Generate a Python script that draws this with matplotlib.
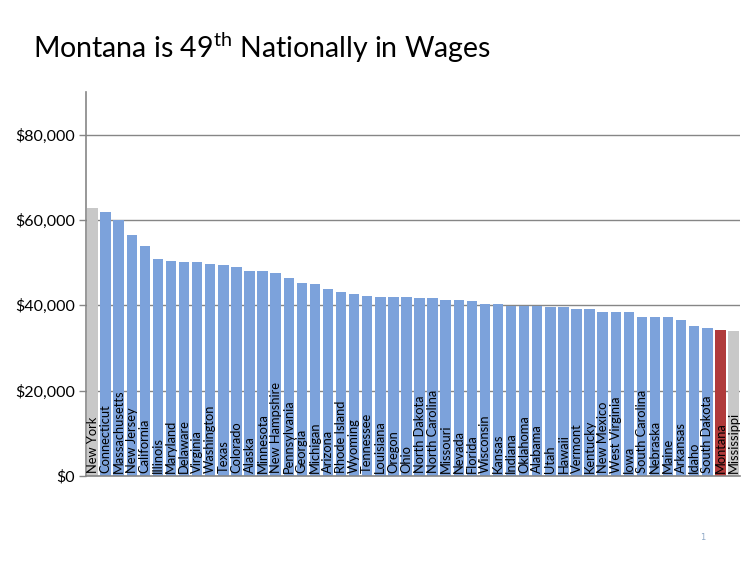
import matplotlib
matplotlib.use('Agg')
import matplotlib.pyplot as plt
import matplotlib.transforms as mtransforms
from matplotlib.ticker import FuncFormatter

states = ['New York', 'Connecticut', 'Massachusetts', 'New Jersey', 'California',
          'Illinois', 'Maryland', 'Delaware', 'Virginia', 'Washington', 'Texas',
          'Colorado', 'Alaska', 'Minnesota', 'New Hampshire', 'Pennsylvania',
          'Georgia', 'Michigan', 'Arizona', 'Rhode Island', 'Wyoming', 'Tennessee',
          'Louisiana', 'Oregon', 'Ohio', 'North Dakota', 'North Carolina', 'Missouri',
          'Nevada', 'Florida', 'Wisconsin', 'Kansas', 'Indiana', 'Oklahoma',
          'Alabama', 'Utah', 'Hawaii', 'Vermont', 'Kentucky', 'New Mexico',
          'West Virginia', 'Iowa', 'South Carolina', 'Nebraska', 'Maine', 'Arkansas',
          'Idaho', 'South Dakota', 'Montana', 'Mississippi']
wages = [62900, 61800, 60000, 56600, 54000,
         50800, 50500, 50100, 50100, 49700, 49400,
         49000, 48000, 48000, 47500, 46400,
         45300, 44900, 43900, 43100, 42700, 42300,
         42000, 42000, 42000, 41700, 41700, 41300,
         41300, 40900, 40200, 40200, 39900, 39900,
         39900, 39700, 39700, 39100, 39100, 38400,
         38400, 38400, 37300, 37300, 37300, 36500,
         35100, 34700, 34300, 34000]
yticks = [0, 20000, 40000, 60000, 80000]

blue = '#7ca2db'
gray = '#c8c8c8'
red = '#b03a3a'
colors = []
for s in states:
    if s == 'Montana':
        colors.append(red)
    elif s in ('New York', 'Mississippi'):
        colors.append(gray)
    else:
        colors.append(blue)

plt.rcParams['mathtext.fontset'] = 'custom'
plt.rcParams['mathtext.rm'] = 'Lato'

fig = plt.figure(figsize=(7.52, 5.65), dpi=100)
ax = fig.add_axes([86/752, 1-476/565, 654/752, 384/565])

x = list(range(len(states)))
ax.bar(x, wages, width=0.8, color=colors, zorder=2)
ax.set_xlim(-0.5, len(states)-0.5)
ax.set_ylim(0, 90000)
ax.set_yticks(yticks)
ax.yaxis.set_major_formatter(FuncFormatter(lambda v, p: '${:,.0f}'.format(v)))
ax.grid(axis='y', color='#868686', linewidth=1, zorder=1)
ax.set_xticks([])
for sp in ['top', 'right', 'bottom']:
    ax.spines[sp].set_visible(False)
ax.spines['left'].set_color('#868686')
ax.spines['left'].set_linewidth(1.2)
ax.tick_params(axis='y', length=5, color='#868686', width=1, pad=3,
               labelsize=11.5)
for lab in ax.get_yticklabels():
    lab.set_family(['Liberation Sans Narrow', 'Lato', 'DejaVu Sans'])

# baseline line extending slightly left like the reference
ax.axhline(0, color='#868686', linewidth=1.2, zorder=3, clip_on=False)

trans = mtransforms.blended_transform_factory(ax.transData, ax.transAxes)
for i, s in enumerate(states):
    ax.text(i, 0.008, s, rotation=90, ha='center', va='bottom', transform=trans,
            fontsize=9.3, color='black', zorder=4,
            family=['Liberation Sans Narrow', 'Lato', 'DejaVu Sans'])

fig.text(33/752, 1-58/565, 'Montana is 49$^{\\rm th}$ Nationally in Wages',
         fontsize=20.5, family='Lato', color='black', ha='left', va='baseline')
fig.text(703/752, 1-540/565, '1', fontsize=6, color='#8ea8c6', ha='center')

fig.savefig('out.png', dpi=100)
